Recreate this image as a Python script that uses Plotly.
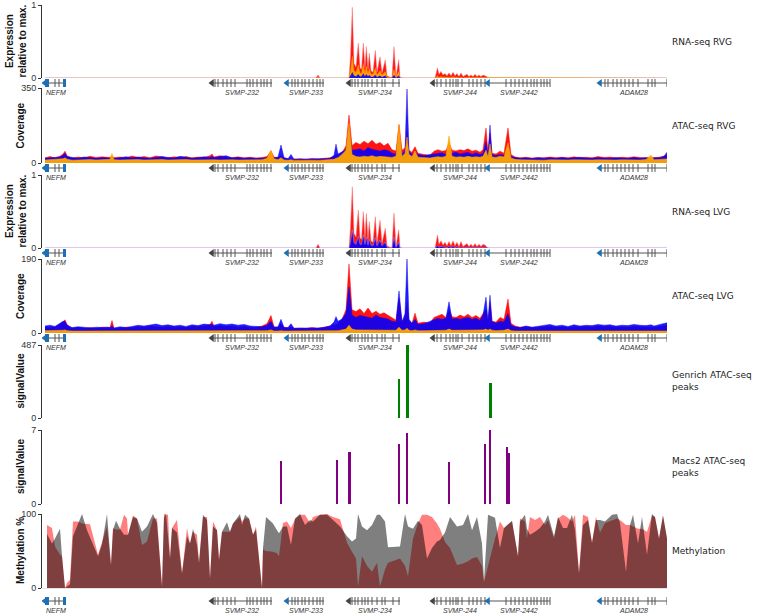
import plotly.graph_objects as go

# ======================= DATA =======================
# genomic positions (kb, window coordinates)
atac_pos = [45, 50, 55, 60, 63, 65, 67, 72, 78, 84,
            90, 96, 102, 108, 110, 112, 114, 120, 126, 132,
            138, 144, 150, 156, 162, 168, 174, 180, 186, 192,
            198, 204, 210, 212, 214, 220, 226, 232, 238, 244,
            250, 256, 262, 267, 271, 274, 278, 281, 284, 288,
            291, 294, 300, 306, 312, 318, 324, 330, 334, 336,
            338, 342, 346, 349, 352, 356, 360, 364, 368, 372,
            376, 380, 384, 388, 392, 396, 399, 402, 405, 407,
            409, 412, 415, 418, 424, 430, 434, 438, 442, 446,
            449, 452, 456, 460, 464, 468, 472, 476, 480, 483,
            486, 488, 490, 492, 496, 500, 504, 508, 511, 515,
            520, 526, 532, 538, 544, 550, 556, 562, 568, 574,
            580, 586, 592, 598, 604, 610, 616, 622, 628, 634,
            640, 646, 651, 654, 660, 664, 667]

atac_rvg_red = [25, 30, 24, 32, 42, 55, 34, 22, 28, 24,
                31, 26, 29, 25, 26, 32, 25, 28, 24, 33,
                26, 30, 25, 33, 27, 24, 29, 26, 30, 24,
                28, 26, 34, 42, 28, 34, 28, 25, 29, 24,
                27, 23, 26, 30, 56, 28, 24, 35, 22, 20,
                22, 18, 20, 17, 21, 19, 22, 24, 30, 40,
                36, 48, 80, 224, 82, 96, 86, 102, 90, 106,
                88, 96, 80, 92, 62, 56, 180, 60, 70, 150,
                60, 50, 76, 45, 40, 36, 55, 62, 55, 58,
                92, 60, 56, 62, 58, 66, 55, 60, 50, 62,
                163, 50, 140, 46, 42, 55, 46, 163, 40, 28,
                24, 27, 23, 26, 24, 28, 25, 27, 24, 29,
                25, 27, 24, 30, 26, 28, 24, 27, 25, 29,
                26, 24, 26, 25, 28, 30, 35]
atac_rvg_blue = [22, 24, 27, 28, 36, 46, 30, 25, 22, 28,
                 24, 22, 25, 22, 23, 27, 22, 25, 29, 24,
                 28, 24, 22, 26, 30, 26, 23, 31, 27, 22,
                 25, 29, 26, 30, 26, 30, 34, 24, 26, 22,
                 24, 22, 22, 26, 40, 24, 28, 84, 26, 20,
                 40, 18, 18, 20, 18, 17, 20, 22, 36, 88,
                 42, 52, 62, 150, 60, 62, 66, 56, 72, 64,
                 60, 56, 62, 58, 46, 42, 120, 42, 60, 345,
                 55, 40, 51, 40, 35, 40, 40, 45, 48, 40,
                 60, 45, 50, 42, 46, 50, 40, 48, 40, 45,
                 100, 40, 177, 40, 35, 40, 36, 60, 30, 25,
                 22, 24, 21, 24, 22, 25, 22, 26, 22, 24,
                 27, 23, 22, 25, 24, 22, 25, 23, 22, 26,
                 22, 25, 22, 24, 25, 32, 50]
atac_rvg_orange = [14, 16, 15, 17, 20, 24, 18, 13, 15, 14,
                   16, 14, 15, 14, 17, 44, 15, 14, 15, 14,
                   16, 14, 15, 13, 16, 14, 15, 14, 16, 14,
                   15, 14, 16, 17, 15, 14, 16, 15, 14, 14,
                   15, 13, 15, 22, 60, 20, 15, 25, 14, 13,
                   15, 12, 13, 12, 13, 12, 14, 15, 17, 22,
                   25, 40, 60, 187, 40, 30, 28, 32, 29, 34,
                   28, 31, 29, 30, 26, 32, 177, 30, 45, 121,
                   40, 30, 56, 27, 25, 23, 27, 29, 27, 31,
                   126, 31, 27, 29, 27, 31, 27, 29, 27, 31,
                   60, 28, 90, 28, 26, 32, 28, 93, 23, 17,
                   15, 14, 15, 14, 13, 15, 14, 15, 14, 15,
                   14, 15, 14, 15, 14, 15, 14, 15, 14, 15,
                   14, 16, 36, 15, 16, 17, 19]

atac_lvg_red = [15, 14, 16, 22, 28, 34, 22, 12, 14, 12,
                14, 12, 15, 13, 14, 32, 12, 13, 15, 14,
                16, 15, 18, 16, 15, 17, 15, 16, 14, 17,
                16, 18, 22, 30, 17, 19, 16, 18, 15, 17,
                14, 15, 18, 24, 45, 16, 14, 24, 15, 13,
                16, 12, 13, 12, 14, 12, 15, 18, 22, 20,
                25, 35, 60, 177, 60, 55, 62, 50, 64, 50,
                56, 48, 52, 46, 38, 33, 90, 30, 40, 80,
                30, 25, 51, 25, 28, 25, 40, 45, 48, 40,
                60, 42, 40, 46, 42, 48, 40, 45, 38, 50,
                60, 30, 80, 30, 28, 40, 35, 87, 25, 18,
                15, 16, 14, 15, 16, 17, 15, 16, 14, 16,
                15, 17, 15, 18, 16, 17, 15, 16, 15, 17,
                16, 15, 16, 15, 17, 18, 20]
atac_lvg_blue = [18, 20, 17, 24, 30, 30, 20, 14, 16, 15,
                 13, 15, 14, 15, 14, 18, 13, 16, 14, 17,
                 20, 18, 21, 23, 19, 21, 18, 20, 17, 21,
                 19, 23, 21, 22, 20, 24, 21, 23, 20, 22,
                 18, 17, 16, 20, 30, 15, 16, 35, 14, 14,
                 24, 12, 12, 13, 12, 13, 14, 18, 28, 42,
                 30, 36, 50, 118, 46, 40, 45, 42, 40, 38,
                 46, 40, 38, 36, 30, 28, 108, 28, 50, 190,
                 35, 25, 35, 22, 24, 30, 35, 38, 35, 38,
                 80, 35, 38, 35, 38, 40, 35, 38, 32, 45,
                 92, 30, 97, 30, 25, 30, 28, 50, 20, 16,
                 14, 18, 15, 17, 19, 22, 18, 20, 17, 21,
                 18, 20, 19, 22, 20, 21, 18, 20, 19, 22,
                 20, 19, 21, 18, 22, 24, 26]
atac_lvg_orange = [6, 6, 6, 6, 7, 8, 6, 5, 5, 5,
                   5, 5, 5, 5, 5, 6, 5, 5, 5, 5,
                   5, 5, 5, 5, 5, 5, 5, 5, 5, 5,
                   5, 5, 6, 6, 5, 5, 5, 5, 5, 5,
                   5, 5, 5, 6, 8, 5, 5, 6, 5, 5,
                   5, 5, 5, 5, 5, 5, 5, 5, 6, 6,
                   6, 8, 10, 20, 10, 8, 8, 8, 8, 8,
                   8, 8, 8, 8, 8, 7, 15, 7, 8, 12,
                   7, 6, 8, 6, 6, 6, 7, 7, 7, 7,
                   10, 7, 7, 7, 7, 7, 7, 7, 7, 8,
                   10, 7, 10, 7, 6, 7, 7, 10, 6, 5,
                   5, 5, 5, 5, 5, 5, 5, 5, 5, 5,
                   5, 5, 5, 5, 5, 5, 5, 5, 5, 5,
                   5, 5, 5, 5, 5, 5, 5]

rna_pos = [45, 210, 316, 318, 320,
           349, 350.5, 352.3, 354, 356,
           358.3, 360, 361.5, 363.3, 365,
           366.3, 368, 369.3, 371, 373,
           375.3, 377, 380, 382, 385.3,
           387, 390, 392, 394, 396,
           398.7, 400, 402, 435, 437.5,
           439, 441, 443, 445, 447,
           449, 451, 453, 455, 457,
           459, 461, 463, 465, 467,
           469, 471, 473, 475, 477,
           479, 481, 483, 485, 487,
           489, 667]
rna_rvg_red = [0, 0, 0, 0.04, 0,
               0, 0.3, 0.97, 0.2, 0.15,
               0.48, 0.14, 0.12, 0.48, 0.14,
               0.43, 0.12, 0.34, 0.1, 0.08,
               0.38, 0.08, 0.29, 0.07, 0.25,
               0.03, 0.01, 0.01, 0.43, 0.02,
               0.25, 0.01, 0, 0, 0.14,
               0.05, 0.09, 0.04, 0.06, 0.03,
               0.07, 0.03, 0.08, 0.03, 0.06,
               0.02, 0.07, 0.02, 0.03, 0.05,
               0.02, 0.04, 0.02, 0.05, 0.02,
               0.04, 0.02, 0.04, 0.03, 0.01,
               0, 0]
rna_rvg_orange = [0, 0, 0, 0.015, 0,
                  0, 0.1, 0.3, 0.1, 0.08,
                  0.18, 0.07, 0.06, 0.2, 0.07,
                  0.16, 0.06, 0.13, 0.05, 0.05,
                  0.14, 0.04, 0.1, 0.04, 0.09,
                  0.01, 0, 0, 0.12, 0.01,
                  0.09, 0, 0, 0, 0.03,
                  0.01, 0.02, 0.01, 0.015, 0.01,
                  0.015, 0.01, 0.02, 0.01, 0.015,
                  0, 0.015, 0, 0.01, 0.01,
                  0, 0.01, 0, 0.01, 0,
                  0.01, 0, 0.01, 0.01, 0,
                  0, 0]
rna_rvg_blue = [0, 0, 0, 0.005, 0,
                0, 0.03, 0.08, 0.03, 0.02,
                0.05, 0.02, 0.02, 0.06, 0.02,
                0.05, 0.02, 0.04, 0.015, 0.015,
                0.04, 0.01, 0.03, 0.01, 0.03,
                0, 0, 0, 0.04, 0,
                0.03, 0, 0, 0, 0.01,
                0, 0.005, 0, 0.005, 0,
                0.005, 0, 0.005, 0, 0.005,
                0, 0.005, 0, 0, 0,
                0, 0, 0, 0, 0,
                0, 0, 0, 0, 0,
                0, 0]
rna_lvg_red = [0, 0, 0, 0.05, 0,
               0, 0.28, 0.84, 0.2, 0.15,
               0.52, 0.14, 0.12, 0.5, 0.14,
               0.475, 0.12, 0.36, 0.1, 0.08,
               0.43, 0.08, 0.38, 0.07, 0.27,
               0.03, 0.01, 0.01, 0.48, 0.02,
               0.25, 0.01, 0, 0, 0.18,
               0.05, 0.1, 0.04, 0.08, 0.03,
               0.09, 0.03, 0.1, 0.03, 0.08,
               0.02, 0.09, 0.02, 0.04, 0.06,
               0.02, 0.05, 0.02, 0.06, 0.02,
               0.05, 0.02, 0.05, 0.04, 0.01,
               0, 0]
rna_lvg_blue = [0, 0, 0, 0.01, 0,
                0, 0.08, 0.25, 0.07, 0.05,
                0.16, 0.05, 0.05, 0.18, 0.05,
                0.15, 0.04, 0.12, 0.04, 0.03,
                0.14, 0.03, 0.11, 0.03, 0.08,
                0.01, 0, 0, 0.15, 0.01,
                0.08, 0, 0, 0, 0.03,
                0.01, 0.02, 0.01, 0.01, 0.005,
                0.02, 0.005, 0.02, 0.005, 0.015,
                0, 0.015, 0, 0.01, 0.01,
                0, 0.01, 0, 0.01, 0,
                0.01, 0, 0.01, 0.01, 0,
                0, 0]

genrich_center = [399, 407.5, 490.2]
genrich_width = [2, 3, 2.7]
genrich_value = [260, 487, 233]

macs2_center = [281, 336.7, 349.3, 399, 407.3, 449, 485.3, 490, 507.3, 509.3]
macs2_width = [1, 1, 3.5, 1.5, 2, 1, 1, 2, 1.5, 1.5]
macs2_value = [4.1, 4.2, 4.9, 5.7, 6.7, 4.0, 5.7, 7.0, 5.4, 4.8]

meth_pos = [47, 52, 55, 60, 62, 65, 67, 70, 73, 78,
            82, 87, 90, 98, 102, 107, 111, 113, 116, 120,
            124, 127, 128, 133, 137, 142, 147, 153, 157, 162,
            164, 166, 168, 170, 172, 177, 182, 187, 190, 193,
            197, 199, 203, 207, 210, 213, 217, 219, 222, 227,
            230, 233, 240, 242, 245, 249, 253, 256, 262, 263,
            266, 273, 277, 279, 283, 287, 291, 295, 300, 305,
            310, 313, 320, 327, 333, 340, 347, 352, 356, 358,
            362, 367, 372, 377, 380, 385, 388, 400, 405, 408,
            413, 418, 422, 427, 432, 437, 440, 445, 450, 457,
            463, 468, 472, 477, 482, 484, 488, 495, 500, 504,
            512, 518, 520, 525, 527, 530, 535, 540, 545, 548,
            554, 558, 563, 567, 572, 575, 579, 583, 588, 592,
            596, 600, 605, 612, 617, 620, 626, 630, 633, 638,
            642, 647, 652, 655, 659, 663, 667]
meth_rvg = [85, 81, 56, 45, 43, 0, 7, 11, 90, 90,
            87, 87, 86, 45, 62, 83, 31, 81, 79, 79,
            99, 94, 72, 98, 94, 58, 63, 94, 94, 2,
            100, 100, 99, 40, 81, 92, 20, 81, 60, 76,
            72, 34, 96, 96, 13, 90, 78, 38, 76, 76,
            76, 87, 96, 90, 94, 94, 72, 83, 0, 52,
            50, 49, 47, 43, 88, 90, 81, 93, 99, 99,
            88, 96, 99, 100, 96, 93, 61, 49, 40, 2,
            43, 30, 22, 34, 2, 25, 34, 40, 30, 16,
            67, 87, 99, 99, 96, 87, 80, 62, 54, 31,
            33, 36, 40, 42, 30, 8, 31, 67, 90, 81,
            90, 43, 94, 90, 67, 96, 92, 96, 85, 92,
            67, 94, 99, 96, 90, 99, 20, 99, 96, 61,
            96, 75, 88, 92, 94, 92, 85, 85, 83, 80,
            80, 76, 98, 96, 67, 98, 67]
meth_lvg = [73, 60, 67, 80, 43, 0, 2, 5, 70, 88,
            100, 78, 68, 43, 59, 100, 31, 78, 91, 80,
            72, 72, 72, 96, 94, 76, 83, 100, 88, 2,
            95, 100, 72, 40, 81, 75, 20, 70, 60, 80,
            58, 34, 99, 92, 13, 83, 78, 38, 76, 89,
            76, 87, 100, 85, 99, 94, 72, 79, 0, 54,
            96, 87, 78, 74, 83, 83, 58, 94, 100, 85,
            92, 90, 99, 99, 92, 83, 70, 63, 67, 100,
            83, 78, 85, 99, 99, 90, 55, 56, 100, 83,
            80, 91, 85, 40, 54, 63, 65, 75, 96, 83,
            85, 100, 78, 96, 60, 9, 99, 95, 54, 81,
            91, 43, 90, 99, 80, 72, 76, 81, 90, 99,
            70, 96, 81, 81, 99, 78, 20, 85, 92, 61,
            92, 92, 90, 99, 100, 88, 22, 85, 99, 60,
            96, 45, 100, 96, 67, 98, 67]

gene_names = ["NEFM", "SVMP-232", "SVMP-233", "SVMP-234", "SVMP-244", "SVMP-2442", "ADAM28"]
gene_start = [45, 212, 287, 349, 433, 488, 600]
gene_end = [66, 272, 324, 400, 487, 550, 667]
gene_exons = [
    [55, 59],
    [215, 218, 223, 227, 231, 235, 247, 250, 253, 257, 261, 264, 267, 271],
    [292, 295, 298, 302, 305, 309, 313, 317, 320, 323],
    [352, 355, 358, 362, 365, 368, 372, 377, 382, 385, 393, 399],
    [437, 441, 446, 450, 453, 456, 458, 462, 469, 473, 477, 481, 485],
    [506, 511, 515, 519, 523, 527, 531, 534, 537, 541, 544, 547, 550],
    [605, 608, 613, 617, 621, 625, 629, 633, 638, 648, 652, 655, 667],
]
gene_coding_blue = [True, False, True, False, False, True, True]
nefm_block_start = [45, 63]
nefm_block_end = [49, 66]

axis_max = [1, 350, 1, 190, 487, 7, 100]
axis_titles = ["Expression<br>relative to max.", "Coverage", "Expression<br>relative to max.",
               "Coverage", "signalValue", "signalValue", "Methylation %"]
track_labels = ["RNA-seq RVG", "ATAC-seq RVG", "RNA-seq LVG", "ATAC-seq LVG",
                "Genrich ATAC-seq<br>peaks", "Macs2 ATAC-seq<br>peaks", "Methylation"]

# ======================= LAYOUT =======================
W, H = 757, 616
XL, XR = 42, 667
xdom = [XL / W, XR / W]
panel_px = [(5, 78), (88, 163), (175, 248), (259, 333), (345, 418), (430, 504), (514, 588)]
gene_rows = [83, 168, 253, 338, 601]


def ydom(top, bottom):
    return [1 - bottom / H, 1 - top / H]


fig = go.Figure()


def area(x, y, ax, fillcolor, linecolor, lw=0.6):
    fig.add_trace(go.Scatter(x=x, y=y, xaxis=f"x{ax}", yaxis=f"y{ax}", mode="lines",
                             fill="tozeroy", fillcolor=fillcolor,
                             line=dict(color=linecolor, width=lw), hoverinfo="skip"))


RED = "rgba(255,0,0,0.92)"
BLUE = "rgba(0,0,255,0.88)"
ORANGE = "rgba(255,165,0,0.95)"

# 1 RNA RVG
area(rna_pos, rna_rvg_red, 1, RED, "rgba(255,120,120,0.6)", 0.8)
area(rna_pos, rna_rvg_orange, 1, ORANGE, "rgba(255,165,0,0.6)", 0.5)
area(rna_pos, rna_rvg_blue, 1, BLUE, "rgba(0,0,255,0.3)", 0.5)
# 2 ATAC RVG
area(atac_pos, atac_rvg_red, 2, RED, "rgba(255,0,0,0.8)")
area(atac_pos, atac_rvg_blue, 2, BLUE, "rgba(40,0,220,0.8)")
area(atac_pos, atac_rvg_orange, 2, ORANGE, "rgba(255,165,0,0.9)")
# 3 RNA LVG
area(rna_pos, rna_lvg_red, 3, RED, "rgba(255,120,120,0.6)", 0.8)
area(rna_pos, rna_lvg_blue, 3, BLUE, "rgba(140,140,255,0.7)", 0.8)
# 4 ATAC LVG
area(atac_pos, atac_lvg_red, 4, RED, "rgba(255,0,0,0.8)")
area(atac_pos, atac_lvg_blue, 4, BLUE, "rgba(0,0,255,0.8)")
area(atac_pos, atac_lvg_orange, 4, ORANGE, "rgba(255,165,0,0.9)")
# 5 Genrich peaks
fig.add_trace(go.Bar(x=genrich_center, y=genrich_value, width=genrich_width,
                     marker=dict(color="#008000", line=dict(width=0)),
                     xaxis="x5", yaxis="y5", hoverinfo="skip"))
# 6 Macs2 peaks
fig.add_trace(go.Bar(x=macs2_center, y=macs2_value, width=macs2_width,
                     marker=dict(color="#800080", line=dict(width=0)),
                     xaxis="x6", yaxis="y6", hoverinfo="skip"))
# 7 Methylation
area(meth_pos, meth_rvg, 7, "rgba(255,0,0,0.5)", "rgba(0,0,0,0)", 0)
area(meth_pos, meth_lvg, 7, "rgba(0,0,0,0.5)", "rgba(0,0,0,0)", 0)

layout = dict(width=W, height=H, autosize=False,
              margin=dict(l=0, r=0, t=0, b=0, pad=0, autoexpand=False),
              paper_bgcolor="white", plot_bgcolor="rgba(0,0,0,0)",
              showlegend=False, bargap=0)
annotations = []

for i, ((top, bot), ymax) in enumerate(zip(panel_px, axis_max)):
    n = i + 1
    xa = dict(domain=xdom, range=[XL, XR], visible=False, anchor=f"y{n}", automargin=False)
    if n == 7:
        xa = dict(domain=xdom, range=[XL, XR], visible=True, showline=True, linecolor="#e4e4e4",
                  linewidth=1, showticklabels=False, ticks="", showgrid=False, zeroline=False,
                  anchor=f"y{n}", automargin=False)
    layout[f"xaxis{n}"] = xa
    layout[f"yaxis{n}"] = dict(domain=ydom(top, bot), range=[0, ymax], tickvals=[0, ymax],
                               ticktext=["0", str(ymax)], ticks="outside", ticklen=3,
                               tickcolor="#333", showline=True, linecolor="#333", linewidth=1,
                               showgrid=False, zeroline=False, anchor=f"x{n}", automargin=False,
                               tickfont=dict(family="Liberation Sans, Arial", size=9, color="#333"))
    two_line = "<br>" in axis_titles[i]
    annotations.append(dict(xref="paper", yref="paper", x=(15 if two_line else 20) / W,
                            y=1 - (top + bot) / 2 / H, text=f"<b>{axis_titles[i]}</b>",
                            textangle=-90, showarrow=False, xanchor="center", yanchor="middle",
                            font=dict(family="Liberation Sans, Arial", size=10, color="#111")))
    annotations.append(dict(xref="paper", yref="paper", x=670 / W, y=1 - (top + bot) / 2 / H,
                            text=track_labels[i], showarrow=False, xanchor="left",
                            yanchor="middle", align="left",
                            font=dict(family="DejaVu Sans", size=9, color="#222")))

GENE_GRAY = "#555555"
GENE_BLUE = "#1f6fb4"
for k, yc in enumerate(gene_rows):
    n = 8 + k
    layout[f"xaxis{n}"] = dict(domain=xdom, range=[XL, XR], visible=False, anchor=f"y{n}",
                               automargin=False)
    layout[f"yaxis{n}"] = dict(domain=ydom(yc - 12, yc + 12), range=[-12, 12], visible=False,
                               anchor=f"x{n}", automargin=False)
    bx, by, tx, ty = [], [], [], []
    for s, e, ex in zip(gene_start, gene_end, gene_exons):
        bx += [s, e, None]
        by += [0, 0, None]
        for p in ex:
            tx += [p, p, None]
            ty += [-4, 4, None]
    fig.add_trace(go.Scatter(x=bx, y=by, xaxis=f"x{n}", yaxis=f"y{n}", mode="lines",
                             line=dict(color=GENE_GRAY, width=1), hoverinfo="skip"))
    fig.add_trace(go.Scatter(x=tx, y=ty, xaxis=f"x{n}", yaxis=f"y{n}", mode="lines",
                             line=dict(color=GENE_GRAY, width=1), hoverinfo="skip"))
    kx, ky = [], []
    for s, e in zip(nefm_block_start, nefm_block_end):
        kx += [s, e, None]
        ky += [0, 0, None]
    fig.add_trace(go.Scatter(x=kx, y=ky, xaxis=f"x{n}", yaxis=f"y{n}", mode="lines",
                             line=dict(color=GENE_BLUE, width=8), hoverinfo="skip"))
    fig.add_trace(go.Scatter(x=gene_start, y=[0] * len(gene_start), xaxis=f"x{n}", yaxis=f"y{n}",
                             mode="markers",
                             marker=dict(symbol="triangle-left", size=7,
                                         color=[GENE_BLUE if b else "#444444" for b in gene_coding_blue],
                                         line=dict(width=0)),
                             hoverinfo="skip"))
    for name, s, e in zip(gene_names, gene_start, gene_end):
        annotations.append(dict(xref=f"x{n}", yref=f"y{n}", x=(s + e) / 2, y=-9.5,
                                text=f"<i>{name}</i>", showarrow=False, xanchor="center",
                                yanchor="middle",
                                font=dict(family="Liberation Sans, Arial", size=7, color="#333")))

layout["annotations"] = annotations
fig.update_layout(**layout)
fig.write_html("out.html", config={"displayModeBar": False},
               post_script="document.body.style.margin='0px';")
